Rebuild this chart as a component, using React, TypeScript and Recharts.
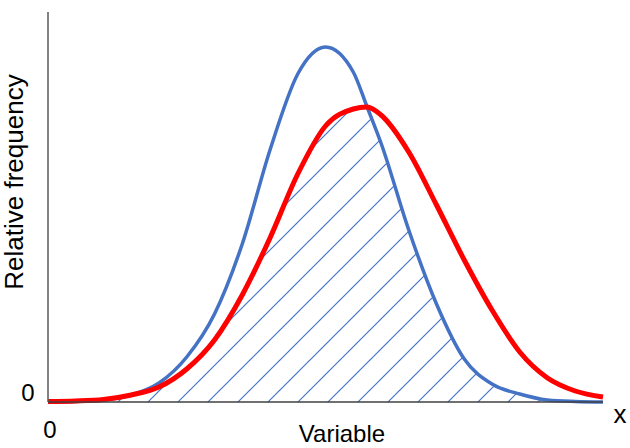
import React from 'react';
import { ComposedChart, Area, Line, XAxis, YAxis, Label } from 'recharts';

// Variable (x) positions, 0..100
const variable = [0, 5, 10, 15, 20, 25, 30, 35, 40, 45, 50, 55, 57.5, 60, 65, 70, 75, 80, 85, 90, 95, 100];
// Relative frequency of the blue (narrow) distribution
const blueFreq = [0, 0.5, 2, 7, 19, 45, 88, 158, 252, 328, 355, 330, 295, 259, 172, 98, 43, 18, 8, 2, 0.5, 0];
// Relative frequency of the red (wide) distribution
const redFreq = [0.5, 1, 2.5, 7, 15, 33, 62, 107, 164, 228, 276, 293, 295, 287, 250, 197, 142, 92, 50, 24, 11, 5];
const xTicks = [0];
const yTicks = [0];

const data = variable.map((v, i) => ({
  v,
  blue: blueFreq[i],
  red: redFreq[i],
  overlap: Math.min(blueFreq[i], redFreq[i]),
}));

const FONT = '"Liberation Sans", Arial, sans-serif';

const XTick = (props: any) => (
  <text x={props.x + 2} y={props.y + 36} textAnchor="middle" fontSize={24} fontFamily={FONT} fill="#000">
    {props.payload.value}
  </text>
);

const YTick = (props: any) => (
  <text x={props.x - 20} y={props.y - 1} textAnchor="middle" fontSize={24} fontFamily={FONT} fill="#000">
    {props.payload.value}
  </text>
);

const XLabel = (props: any) => {
  const vb = props.viewBox || { x: 48, y: 402, width: 555, height: 46 };
  return (
    <g>
      <text x={vb.x + 294} y={vb.y + 40} textAnchor="middle" fontSize={24} fontFamily={FONT} fill="#000">
        Variable
      </text>
      <text x={vb.x + vb.width + 17} y={vb.y + 21} textAnchor="middle" fontSize={26} fontFamily={FONT} fill="#000">
        x
      </text>
    </g>
  );
};

const YLabel = (props: any) => {
  const vb = props.viewBox || { x: 0, y: 12, width: 48, height: 390 };
  const cx = vb.x + 23;
  const cy = vb.y + 170;
  return (
    <text x={cx} y={cy} transform={`rotate(-90 ${cx} ${cy})`} textAnchor="middle" fontSize={26} fontFamily={FONT} fill="#000">
      Relative frequency
    </text>
  );
};

export default function App() {
  return (
    <div style={{ position: 'absolute', left: 0, top: 0, width: 630, height: 448, background: '#fff' }}>
      <ComposedChart width={630} height={448} data={data} margin={{ top: 12, right: 27, bottom: 0, left: 0 }}>
        <defs>
          <pattern id="hatchBlue" patternUnits="userSpaceOnUse" x={10} y={0} width={30} height={30}>
            <line x1={0} y1={30} x2={30} y2={0} style={{ stroke: '#4472C4', strokeWidth: 1.2 }} />
            <line x1={-5} y1={5} x2={5} y2={-5} style={{ stroke: '#4472C4', strokeWidth: 1.2 }} />
            <line x1={25} y1={35} x2={35} y2={25} style={{ stroke: '#4472C4', strokeWidth: 1.2 }} />
          </pattern>
        </defs>
        <XAxis
          dataKey="v"
          type="number"
          domain={[0, 100]}
          ticks={xTicks}
          tickSize={0}
          tickMargin={0}
          tickLine={false}
          height={46}
          axisLine={{ stroke: '#404040', strokeWidth: 1.5 }}
          tick={<XTick />}
        >
          <Label content={<XLabel />} />
        </XAxis>
        <YAxis
          type="number"
          domain={[0, 390]}
          ticks={yTicks}
          tickSize={0}
          tickMargin={0}
          tickLine={false}
          width={48}
          axisLine={{ stroke: '#595959', strokeWidth: 1.5 }}
          tick={<YTick />}
        >
          <Label content={<YLabel />} />
        </YAxis>
        <Area
          type="monotone"
          dataKey="overlap"
          stroke="none"
          fill="url(#hatchBlue)"
          fillOpacity={1}
          isAnimationActive={false}
          dot={false}
          activeDot={false}
        />
        <Line type="monotone" dataKey="blue" stroke="#4472C4" strokeWidth={3.5} dot={false} activeDot={false} isAnimationActive={false} />
        <Line type="monotone" dataKey="red" stroke="#FF0000" strokeWidth={5} dot={false} activeDot={false} isAnimationActive={false} />
      </ComposedChart>
    </div>
  );
}
